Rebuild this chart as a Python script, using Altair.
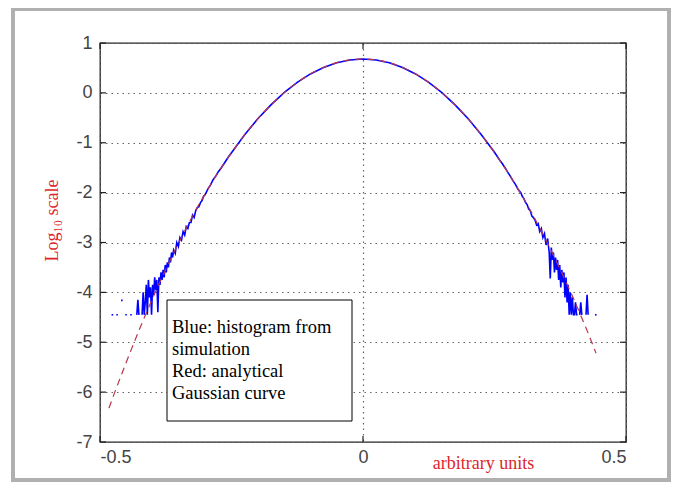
import altair as alt
import pandas as pd

# ---------------- data ----------------
# analytical Gaussian curve (log10 scale)
red_x = [-0.483, -0.475, -0.45, -0.425, -0.40, -0.375, -0.35, -0.325, -0.30, -0.275,
         -0.25, -0.225, -0.20, -0.175, -0.15, -0.125, -0.10, -0.075, -0.05, -0.025,
         0.0, 0.025, 0.05, 0.075, 0.10, 0.125, 0.15, 0.175, 0.20, 0.225,
         0.25, 0.275, 0.30, 0.325, 0.35, 0.375, 0.40, 0.425, 0.443]
red_y = [-6.32, -6.09, -5.40, -4.74, -4.12, -3.54, -3.00, -2.49, -2.02, -1.59,
         -1.20, -0.84, -0.52, -0.24, 0.005, 0.21, 0.38, 0.51, 0.605, 0.66,
         0.68, 0.66, 0.605, 0.51, 0.38, 0.21, 0.005, -0.24, -0.52, -0.84,
         -1.20, -1.59, -2.02, -2.49, -3.00, -3.54, -4.12, -4.74, -5.22]

# simulated histogram (log10 of counts); None = empty bin
blue_x = [-0.478, -0.475, -0.4735,
          -0.469, -0.466, -0.4645,
          -0.460, -0.457, -0.4555,
          -0.452, -0.449, -0.4475,
          -0.4425, -0.4395, -0.438,
          -0.430, -0.428, -0.426, -0.424,
          -0.420, -0.418, -0.416, -0.414, -0.412, -0.410, -0.408, -0.406, -0.404,
          -0.402, -0.400, -0.398, -0.396, -0.394, -0.392, -0.390, -0.388, -0.386,
          -0.384, -0.382, -0.380, -0.378, -0.376, -0.374, -0.372, -0.370, -0.368,
          -0.366, -0.364, -0.362, -0.360, -0.357, -0.354, -0.351, -0.348, -0.345,
          -0.342, -0.339, -0.336, -0.333, -0.330, -0.327, -0.324, -0.321, -0.318,
          -0.315, -0.312, -0.309, -0.306, -0.303, -0.300, -0.295, -0.290, -0.285,
          -0.280, -0.275, -0.270, -0.265, -0.260, -0.255, -0.250,
          -0.225, -0.200, -0.175, -0.150, -0.125, -0.100, -0.075, -0.050, -0.025,
          0.0, 0.025, 0.050, 0.075, 0.100, 0.125, 0.150, 0.175, 0.200, 0.225,
          0.250, 0.255, 0.260, 0.265, 0.270, 0.275, 0.280, 0.285, 0.290, 0.295,
          0.300, 0.303, 0.306, 0.309, 0.312, 0.315, 0.318, 0.321, 0.324, 0.327,
          0.330, 0.333, 0.336, 0.339, 0.342, 0.345, 0.348, 0.351, 0.354, 0.356,
          0.358, 0.360, 0.362, 0.364, 0.366, 0.368, 0.370, 0.372, 0.374, 0.376,
          0.378, 0.380, 0.382, 0.384, 0.386, 0.388, 0.390, 0.392, 0.394, 0.396,
          0.398, 0.400, 0.402, 0.404, 0.406, 0.408, 0.410,
          0.412, 0.414, 0.416, 0.418,
          0.424, 0.426, 0.428, 0.430,
          0.441, 0.444]
blue_y = [-4.45, -4.45, None,
          -4.45, -4.45, None,
          -4.16, -4.16, None,
          -4.45, -4.45, None,
          -4.45, -4.45, None,
          -4.45, -4.15, -4.45, None,
          -4.45, -4.00, -4.45, -4.20, -3.85, -4.45, -3.75, -4.10, -3.90,
          -4.45, -3.85, -4.05, -3.70, -3.95, -3.75, -4.40, -3.70, -3.85,
          -3.60, -3.75, -3.55, -3.70, -3.45, -3.60, -3.40, -3.50, -3.30,
          -3.40, -3.20, -3.30, -3.15, -3.22, -3.00, -3.08, -2.90, -2.95,
          -2.78, -2.85, -2.68, -2.72, -2.60, -2.60, -2.45, -2.50, -2.36,
          -2.30, -2.28, -2.20, -2.16, -2.07, -2.04, -1.93, -1.85, -1.74,
          -1.67, -1.58, -1.51, -1.43, -1.35, -1.27, -1.20,
          -0.84, -0.52, -0.24, 0.005, 0.21, 0.38, 0.51, 0.605, 0.66,
          0.68, 0.66, 0.605, 0.51, 0.38, 0.21, 0.005, -0.24, -0.52, -0.84,
          -1.19, -1.27, -1.35, -1.42, -1.50, -1.59, -1.67, -1.76, -1.84, -1.94,
          -2.00, -2.08, -2.12, -2.20, -2.24, -2.33, -2.36, -2.47, -2.50, -2.55,
          -2.65, -2.62, -2.78, -2.72, -2.90, -2.82, -3.05, -2.92, -3.20, -3.72,
          -3.10, -3.35, -3.20, -3.60, -3.30, -3.55, -3.35, -3.75, -3.45, -3.90,
          -3.55, -3.80, -3.60, -4.10, -3.70, -4.20, -3.85, -4.45, -4.00, -4.45,
          -4.10, -4.45, -4.45, -4.20, -4.45, -4.45, None,
          -4.45, -4.20, -4.45, None,
          -4.45, -4.05, -4.45, None,
          -4.45, -4.45]

x_ticks = [-0.5, 0.0, 0.5]
y_ticks = [-7, -6, -5, -4, -3, -2, -1, 0, 1]
legend_lines = ["Blue: histogram from", "simulation", "Red: analytical", "Gaussian curve"]
x_title = "arbitrary units"
y_title = "Log\u2081\u2080 scale"

# ---------------- build tables ----------------
seg, rows = 0, []
for xv, yv in zip(blue_x, blue_y):
    if yv is None:
        seg += 1
        continue
    rows.append({"x": xv, "y": yv, "seg": seg})
blue_df = pd.DataFrame(rows)
red_df = pd.DataFrame({"x": red_x, "y": red_y})
ytick_df = pd.DataFrame({"x": [0.0] * len(y_ticks), "y": y_ticks})
xtick_df = pd.DataFrame({"x": x_ticks, "y": [0.0] * len(x_ticks)})
legend_df = pd.DataFrame({"t": ["\n".join(legend_lines)]})

W, H = 526, 399
xs = alt.Scale(domain=[-0.5, 0.5], nice=False, zero=False)
ys = alt.Scale(domain=[-7, 1], nice=False, zero=False)

XAX = alt.Axis(values=x_ticks, grid=True, ticks=False, domain=False,
               labelExpr="datum.value == 0 ? '0' : '' + datum.value",
               titleX=383, titleY=21, titleAlign="center",
               titleBaseline="middle", titleFont="Liberation Serif",
               titleFontSize=18, titleFontWeight="normal", titleColor="#dd1f2b",
               labelPadding=6)
YAX = alt.Axis(values=y_ticks, grid=True, ticks=False, domain=False,
               labelExpr="'' + datum.value",
               titleX=-48, titleY=177, titleAlign="center",
               titleBaseline="middle", titleAngle=270,
               titleFont="Liberation Serif", titleFontSize=18,
               titleFontWeight="normal", titleColor="#dd1f2b",
               labelPadding=8)


def X():
    return alt.X("x:Q", scale=xs, axis=XAX, title=x_title)


def Y():
    return alt.Y("y:Q", scale=ys, axis=YAX, title=y_title)


frame = alt.Chart(pd.DataFrame({"k": [0]})).mark_rect(
    filled=False, stroke="#b0b0b0", strokeWidth=4
).encode(x=alt.value(-87), x2=alt.value(569), y=alt.value(-34), y2=alt.value(437))

ytl = alt.Chart(ytick_df).mark_rule(color="#222", strokeWidth=1.2).encode(
    y=Y(), x=alt.value(0), x2=alt.value(6))
ytr = alt.Chart(ytick_df).mark_rule(color="#222", strokeWidth=1.2).encode(
    y=Y(), x=alt.value(W - 6), x2=alt.value(W))
xtb = alt.Chart(xtick_df).mark_rule(color="#222", strokeWidth=1.2).encode(
    x=X(), y=alt.value(H - 6), y2=alt.value(H))
xtt = alt.Chart(xtick_df).mark_rule(color="#222", strokeWidth=1.2).encode(
    x=X(), y=alt.value(0), y2=alt.value(6))

blue = alt.Chart(blue_df).mark_line(color="#0000ff", strokeWidth=1.6).encode(
    x=X(), y=Y(), detail="seg:N", order="x:Q")

red = alt.Chart(red_df).mark_line(color="#b8364e", strokeWidth=1.2,
                                  strokeDash=[7, 5], interpolate="monotone").encode(
    x=X(), y=Y())

box = alt.Chart(pd.DataFrame({"k": [0]})).mark_rect(
    fill="white", stroke="black", strokeWidth=1).encode(
    x=alt.value(67), x2=alt.value(252), y=alt.value(257), y2=alt.value(378))

legend_text = alt.Chart(legend_df).mark_text(
    align="left", baseline="alphabetic", font="Liberation Serif", fontSize=18.5,
    lineBreak="\n", lineHeight=22, color="black").encode(
    text="t:N", x=alt.value(72), y=alt.value(290))

chart = alt.layer(blue, red, frame, ytl, ytr, xtb, xtt, box, legend_text).properties(
    width=W, height=H,
    autosize=alt.AutoSizeParams(type="none"),
    padding={"left": 92, "top": 35, "right": 46, "bottom": 41},
    background="white",
).configure_view(stroke="#222", strokeWidth=1.3).configure_axis(
    labelFont="Liberation Sans", labelFontSize=18, labelColor="#444",
    gridColor="#666", gridDash=[1.5, 4], gridWidth=1.2, gridOpacity=1,
)

chart.save("out.html", embed_options={"renderer": "svg", "actions": False})
